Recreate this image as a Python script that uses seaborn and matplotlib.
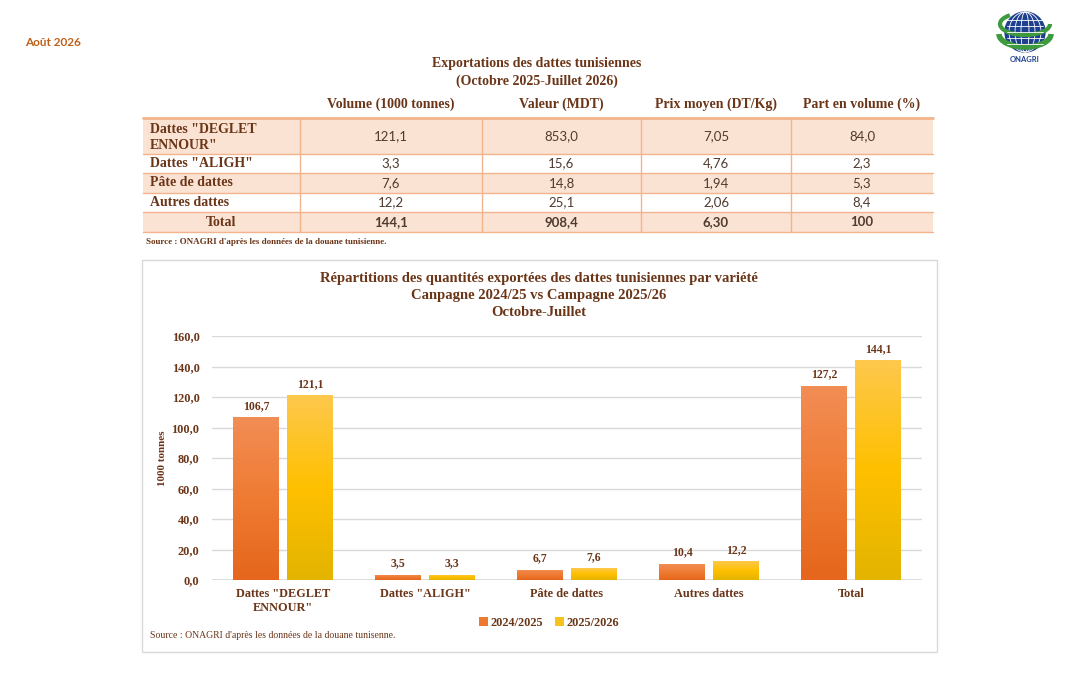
import numpy as np
import pandas as pd
import matplotlib
matplotlib.use("Agg")
import matplotlib.pyplot as plt
import seaborn as sns
from matplotlib.patches import Rectangle, Circle, Ellipse, Arc
from matplotlib.colors import LinearSegmentedColormap
from matplotlib.ticker import FuncFormatter, MultipleLocator

# ==========================================
# 1. Données
# ==========================================
categories = ['Dattes "DEGLET\nENNOUR"', 'Dattes "ALIGH"', 'Pâte de dattes', 'Autres dattes', 'Total']
seasons = ['2024/2025', '2025/2026']
values_2425 = [106.7, 3.5, 6.7, 10.4, 127.2]
values_2526 = [121.1, 3.3, 7.6, 12.2, 144.1]

table_rows = ['Dattes "DEGLET\nENNOUR"', 'Dattes "ALIGH"', 'Pâte de dattes', 'Autres dattes', 'Total']
table_cols = ['Volume (1000 tonnes)', 'Valeur (MDT)', 'Prix moyen (DT/Kg)', 'Part en volume (%)']
volume = ['121,1', '3,3', '7,6', '12,2', '144,1']
valeur = ['853,0', '15,6', '14,8', '25,1', '908,4']
prix = ['7,05', '4,76', '1,94', '2,06', '6,30']
part = ['84,0', '2,3', '5,3', '8,4', '100']

BROWN = '#6b3518'
NUM = '#4f3b2e'
LINE = '#f2b48c'
PEACH = '#fbe3d4'
ORANGE = '#ee7a30'
YELLOW = '#f9c11c'

W, H = 1087, 696
SERIF = ['Liberation Serif', 'DejaVu Serif']
SANS = ['Lato', 'DejaVu Sans']


def fx(x):
    return x / W


def fy(y):
    return 1 - y / H


def fmt(v):
    return f"{v:.1f}".replace('.', ',')


sns.set_theme(style='white')
plt.rcParams['font.family'] = SERIF

fig = plt.figure(figsize=(W / 100, H / 100), dpi=100)
fig.patch.set_facecolor('white')

# ==========================================
# 2. En-tête
# ==========================================
fig.text(fx(25), fy(43), 'Août 2026', family=SANS, fontweight='bold', fontsize=8.5,
         color='#c0601a', va='center', ha='left')

fig.text(fx(537), fy(64), 'Exportations des dattes tunisiennes', fontweight='bold',
         fontsize=10, color=BROWN, ha='center', va='center')
fig.text(fx(537), fy(81), '(Octobre 2025-Juillet 2026)', fontweight='bold',
         fontsize=10, color=BROWN, ha='center', va='center')

# logo (simplifié)
lax = fig.add_axes([fx(995), fy(68), fx(60), 60 / H])
lax.set_xlim(0, 60)
lax.set_ylim(0, 60)
lax.set_aspect('equal')
lax.axis('off')
lax.add_patch(Circle((30, 36), 20, color='#1f3f8f'))
for yy in [24, 30, 36, 42, 48]:
    lax.plot([12, 48], [yy, yy], color='white', lw=0.6)
for ww in [8, 20, 32]:
    lax.add_patch(Ellipse((30, 36), ww, 40, fill=False, ec='white', lw=0.6))
lax.add_patch(Arc((30, 34), 52, 26, theta1=180, theta2=360, color='#3d9a3d', lw=4))
lax.add_patch(Arc((30, 44), 50, 22, theta1=150, theta2=360, color='#3d9a3d', lw=3))
lax.text(30, 9, 'ONAGRI', ha='center', va='center', family=SANS, fontweight='bold',
         fontsize=5.5, color='#1f3f8f')

# ==========================================
# 3. Tableau
# ==========================================
col_edges = [143, 300, 482, 641, 791, 933]
row_edges = [118, 154, 173, 193, 212, 232]
fills = [PEACH, 'white', PEACH, 'white', PEACH]

for i in range(5):
    y0, y1 = row_edges[i], row_edges[i + 1]
    fig.add_artist(Rectangle((fx(143), fy(y1)), fx(933 - 143), (y1 - y0) / H,
                             transform=fig.transFigure, facecolor=fills[i], edgecolor='none',
                             zorder=-1))
for k, y in enumerate(row_edges):
    fig.add_artist(plt.Line2D([fx(143), fx(933)], [fy(y), fy(y)], transform=fig.transFigure,
                              color=LINE, lw=2 if k == 0 else 1))
for x in col_edges[1:-1]:
    fig.add_artist(plt.Line2D([fx(x), fx(x)], [fy(118), fy(232)], transform=fig.transFigure,
                              color=LINE, lw=1))

col_centers = [(col_edges[j] + col_edges[j + 1]) / 2 for j in range(1, 5)]
for j, name in enumerate(table_cols):
    fig.text(fx(col_centers[j]), fy(104), name, fontweight='bold', fontsize=10,
             color=BROWN, ha='center', va='center')

for i, label in enumerate(table_rows):
    yc = (row_edges[i] + row_edges[i + 1]) / 2
    if label == 'Total':
        fig.text(fx(221), fy(yc), label, fontweight='bold', fontsize=10, color=BROWN,
                 ha='center', va='center')
    else:
        shift = 1.5 if '\n' in label else 0
        fig.text(fx(150), fy(yc + shift), label, fontweight='bold', fontsize=10, color=BROWN,
                 ha='left', va='center', linespacing=1.3)
    for j, col in enumerate([volume, valeur, prix, part]):
        fig.text(fx(col_centers[j]), fy(yc), col[i], family=SANS, fontsize=9.5,
                 fontweight='bold' if label == 'Total' else 'normal',
                 color=NUM, ha='center', va='center')

fig.text(fx(146), fy(242), "Source : ONAGRI d'après les données de la douane tunisienne.",
         fontweight='bold', fontsize=6.5, color=BROWN, ha='left', va='center')

# ==========================================
# 4. Graphique
# ==========================================
fig.add_artist(Rectangle((fx(142), fy(652)), fx(937 - 142), (652 - 260) / H,
                         transform=fig.transFigure, facecolor='white',
                         edgecolor='#d9d9d9', lw=1, zorder=-1))

fig.text(fx(539), fy(272),
         'Répartitions des quantités exportées des dattes tunisiennes par variété\n'
         'Canpagne 2024/25 vs Campagne 2025/26\nOctobre-Juillet',
         fontweight='bold', fontsize=10.5, color=BROWN, ha='center', va='top', linespacing=1.38)

df = pd.DataFrame({
    'Catégorie': categories * 2,
    'Campagne': [seasons[0]] * 5 + [seasons[1]] * 5,
    'Valeur': values_2425 + values_2526,
})

ax = fig.add_axes([fx(212), fy(580), fx(710), 244 / H])
sns.barplot(data=df, x='Catégorie', y='Valeur', hue='Campagne', hue_order=seasons,
            palette=[ORANGE, YELLOW], width=0.76, gap=0.16, saturation=1,
            edgecolor='none', ax=ax)

# dégradé dans les barres
grads = [LinearSegmentedColormap.from_list('o', ['#e5661c', '#ef7b33', '#f28d55']),
         LinearSegmentedColormap.from_list('y', ['#e3b400', '#ffc000', '#fdc84c'])]
g = np.linspace(0, 1, 100).reshape(-1, 1)
for c, cont in enumerate(ax.containers):
    for bar in cont:
        x0, y0 = bar.get_x(), bar.get_y()
        w, h = bar.get_width(), bar.get_height()
        im = ax.imshow(g, extent=[x0, x0 + w, y0, y0 + h], origin='lower', aspect='auto',
                       cmap=grads[c], zorder=bar.get_zorder() + 0.1)
        im.set_clip_path(bar)
    ax.bar_label(cont, labels=[fmt(v) for v in cont.datavalues], padding=4,
                 fontweight='bold', fontsize=8.5, color=BROWN)

ax.set_xlim(-0.5, 4.5)
ax.set_ylim(0, 160)
ax.yaxis.set_major_locator(MultipleLocator(20))
ax.yaxis.set_major_formatter(FuncFormatter(lambda v, p: fmt(v)))
ax.grid(axis='y', color='#d9d9d9', lw=1)
ax.set_axisbelow(True)
sns.despine(ax=ax, left=True, bottom=True, top=True, right=True)
ax.axhline(0, color='#d9d9d9', lw=1.2, zorder=0.5)
ax.tick_params(axis='both', length=0, labelsize=8.8, labelcolor=BROWN)
ax.tick_params(axis='y', pad=9)
ax.tick_params(axis='x', pad=6)
for t in ax.get_xticklabels() + ax.get_yticklabels():
    t.set_fontweight('bold')
ax.set_xlabel('')
ax.set_ylabel('1000 tonnes', fontweight='bold', fontsize=8, color=BROWN, labelpad=3)
ax.patch.set_alpha(0)

sns.move_legend(ax, 'center', bbox_to_anchor=((549 - 212) / 710, (580 - 623) / 244),
                ncol=2, frameon=False, title=None, handlelength=0.7, handleheight=0.7,
                handletextpad=0.2, columnspacing=1.0,
                prop={'weight': 'bold', 'size': 8.8, 'family': SERIF})
for t in ax.get_legend().get_texts():
    t.set_color(BROWN)

fig.text(fx(150), fy(635), "Source : ONAGRI d'après les données de la douane tunisenne.",
         fontsize=7, color=BROWN, ha='left', va='center')

fig.savefig('out.png', dpi=100, facecolor='white')
